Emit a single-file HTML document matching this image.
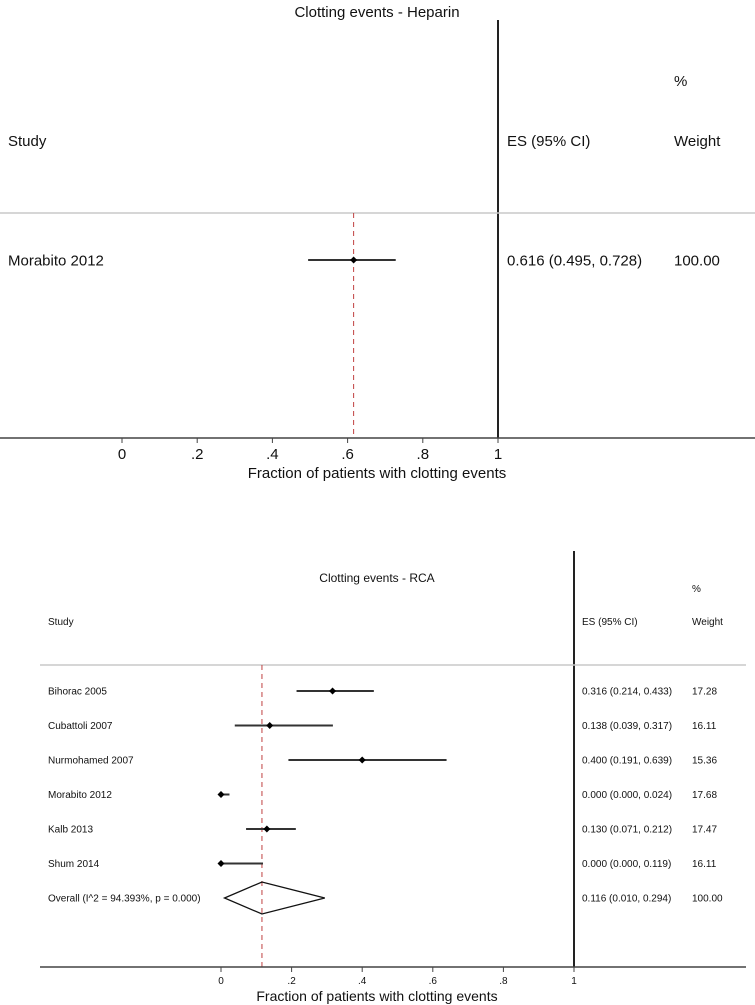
<!DOCTYPE html>
<html><head><meta charset="utf-8"><style>
body{margin:0;background:#fff;width:755px;height:1005px;overflow:hidden}
svg{display:block;font-family:"Liberation Sans",Arial,sans-serif}
</style></head><body>
<svg id="chart" width="755" height="1005"></svg>
<script>
const topStudies=["Morabito 2012"];
const topES=[0.616];
const topLo=[0.495];
const topHi=[0.728];
const topESText=["0.616 (0.495, 0.728)"];
const topWeights=["100.00"];
const topPooled=[0.616];
const botStudies=["Bihorac 2005","Cubattoli 2007","Nurmohamed 2007","Morabito 2012","Kalb 2013","Shum 2014"];
const botES=[0.316,0.138,0.400,0.000,0.130,0.000];
const botLo=[0.214,0.039,0.191,0.000,0.071,0.000];
const botHi=[0.433,0.317,0.639,0.024,0.212,0.119];
const botESText=["0.316 (0.214, 0.433)","0.138 (0.039, 0.317)","0.400 (0.191, 0.639)","0.000 (0.000, 0.024)","0.130 (0.071, 0.212)","0.000 (0.000, 0.119)"];
const botWeights=["17.28","16.11","15.36","17.68","17.47","16.11"];
const overall=[0.116,0.010,0.294];
const overallLabel="Overall  (I^2 = 94.393%, p = 0.000)";
const overallESText="0.116 (0.010, 0.294)";
const tickVals=[0,0.2,0.4,0.6,0.8,1];
const tickLabels=["0",".2",".4",".6",".8","1"];

const svg=document.getElementById('chart');
const NS='http://www.w3.org/2000/svg';
function mk(tag,at,txt){const e=document.createElementNS(NS,tag);for(const k in at)e.setAttribute(k,at[k]);if(txt!=null)e.textContent=txt;svg.appendChild(e);return e;}

function panel(o){
  const x=v=>o.x0+v*o.scale;
  let e;
  e=mk('text',{x:377,y:o.titleY,'text-anchor':'middle','font-size':o.tts,fill:'#111'},o.title);
  
  
  e=mk('line',{x1:x(1),x2:x(1),y1:o.vTop,y2:o.axisY,stroke:'#222','stroke-width':2});
  
  
  e=mk('line',{x1:o.left,x2:o.right,y1:o.sepY,y2:o.sepY,stroke:'#c8c8c8','stroke-width':1.5});
  
  
  const hdr=[["%",o.wX,o.pctY],["Study",o.labX,o.hdrY],["ES (95% CI)",o.esX,o.hdrY],["Weight",o.wX,o.hdrY]];
  hdr.forEach(h=>{e=mk('text',{x:h[1],y:h[2],'font-size':o.fs,fill:'#111'},h[0]);
    
    });
  e=mk('line',{x1:x(o.pooled),x2:x(o.pooled),y1:o.sepY,y2:o.axisY,stroke:'#c04040','stroke-width':1,'stroke-dasharray':'5,4'});
  
  
  o.studies.forEach((s,i)=>{
    const y=o.row0+i*o.rowH;
    e=mk('text',{x:o.labX,y:y+o.fs*0.35,'font-size':o.fs,fill:'#111'},s);
    
    
    e=mk('line',{x1:x(o.lo[i]),x2:x(o.hi[i]),y1:y,y2:y,stroke:'#333','stroke-width':2});
    
    
    const cx=x(o.es[i]),d=3.5;
    e=mk('polygon',{points:`${cx-d},${y} ${cx},${y-d} ${cx+d},${y} ${cx},${y+d}`,fill:'#000'});
    
    
    e=mk('text',{x:o.esX,y:y+o.fs*0.35,'font-size':o.fs,fill:'#111'},o.esText[i]);
    
    
    e=mk('text',{x:o.wX,y:y+o.fs*0.35,'font-size':o.fs,fill:'#111'},o.weights[i]);
    
    
  });
  if(o.overall){
    const y=o.row0+o.studies.length*o.rowH,h=16;
    e=mk('text',{x:o.labX,y:y+o.fs*0.35,'font-size':o.fs,fill:'#111'},overallLabel);
    
    
    e=mk('polygon',{points:`${x(overall[1])},${y} ${x(overall[0])},${y-h} ${x(overall[2])},${y} ${x(overall[0])},${y+h}`,fill:'none',stroke:'#111','stroke-width':1.3});
    
    
    e=mk('text',{x:o.esX,y:y+o.fs*0.35,'font-size':o.fs,fill:'#111'},overallESText);
    
    
    e=mk('text',{x:o.wX,y:y+o.fs*0.35,'font-size':o.fs,fill:'#111'},"100.00");
    
    
  }
  e=mk('line',{x1:o.left,x2:o.right,y1:o.axisY,y2:o.axisY,stroke:'#444','stroke-width':1.5});
  
  
  tickVals.forEach((v,i)=>{
    e=mk('line',{x1:x(v),x2:x(v),y1:o.axisY,y2:o.axisY+5,stroke:'#444','stroke-width':1});
    
    
    e=mk('text',{x:x(v),y:o.tickY,'text-anchor':'middle','font-size':o.tfs,fill:'#111'},tickLabels[i]);
    
    
  });
  e=mk('text',{x:377,y:o.axTitleY,'text-anchor':'middle','font-size':o.afs,fill:'#111'},"Fraction of patients with clotting events");
  
  
}
panel({key:'heparin',title:'Clotting events - Heparin',titleY:17,tts:15,fs:15,tfs:15,afs:15,x0:122,scale:376,vTop:20,axisY:438,left:0,right:755,sepY:213,
  labX:8,esX:507,wX:674,pctY:86,hdrY:146,row0:260,rowH:34,studies:topStudies,es:topES,lo:topLo,hi:topHi,esText:topESText,weights:topWeights,
  pooled:topPooled[0],overall:false,tickY:459,axTitleY:478});
panel({key:'rca',title:'Clotting events - RCA',titleY:582,tts:12,fs:10,tfs:10,afs:14,x0:221,scale:353,vTop:551,axisY:967,left:40,right:746,sepY:665,
  labX:48,esX:582,wX:692,pctY:592,hdrY:625,row0:691,rowH:34.5,studies:botStudies,es:botES,lo:botLo,hi:botHi,esText:botESText,weights:botWeights,
  pooled:overall[0],overall:true,tickY:984,axTitleY:1001});
</script>
</body></html>
